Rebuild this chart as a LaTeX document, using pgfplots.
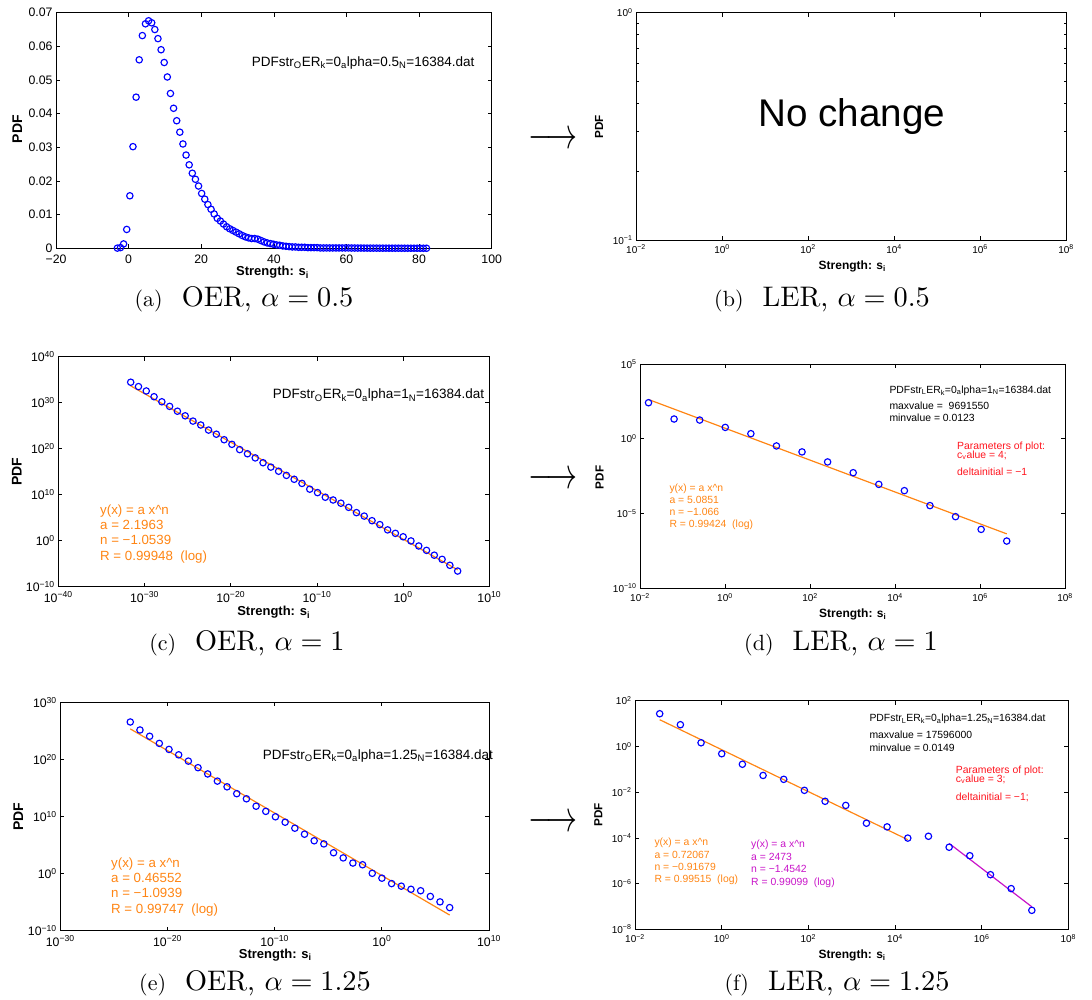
\documentclass[border=0pt]{standalone}
\usepackage{pgfplots}
\pgfplotsset{compat=1.18}
\usepackage{fontspec}
\usepackage{graphicx}
\newfontfamily\hv{Liberation Sans}
\definecolor{mor}{RGB}{255,133,20}
\definecolor{mpu}{RGB}{200,20,200}
\definecolor{mre}{RGB}{255,20,30}
\definecolor{mbl}{RGB}{0,0,255}
\newcommand\E[1]{10\textsuperscript{#1}}
\newcommand\capt[2]{\scalebox{2.2}{(#1)}\hspace{19pt}\scalebox{2.83}{#2}}
\pgfplotsset{
  mat/.style={scale only axis, anchor=south west,
    axis line style={line width=0.8pt},
    every tick/.append style={line width=0.7pt, black},
    major tick length=4pt, minor tick length=2.5pt, tick align=inside,
    xtick pos=both, ytick pos=both, xminorticks=false, yminorticks=false,
    scaled ticks=false,
    xticklabel style={yshift=-1.5pt},
    xlabel={Strength: s\textsubscript{i}}, ylabel={PDF}},
  xl/.style 2 args={every axis x label/.style={at={(axis description cs:#1,#2)},anchor=base}},
  yl/.style 2 args={every axis y label/.style={at={(axis description cs:#1,#2)},anchor=center,rotate=90}},
  fL/.style={ticklabel style={font=\hv\fontsize{12.3}{14}\selectfont},
    every axis x label/.append style={font=\hv\bfseries\fontsize{13}{15}\selectfont},
    every axis y label/.append style={font=\hv\bfseries\fontsize{14}{16}\selectfont}},
  fR/.style={ticklabel style={font=\hv\fontsize{10}{12}\selectfont},
    every axis x label/.append style={font=\hv\bfseries\fontsize{12}{14}\selectfont},
    every axis y label/.append style={font=\hv\bfseries\fontsize{11.7}{14}\selectfont}},
  pts/.style={only marks, mark=o, mark size=3.2pt, mark options={line width=1.15pt, draw=mbl}},
  fit/.style={no marks, line width=1.2pt, #1},
}
\begin{document}
\begin{tikzpicture}
\useasboundingbox (0,0) rectangle (1092pt,999pt);

% ---------------- (a) ----------------
\begin{axis}[mat, xl={0.497}{-0.116}, yl={-0.0888}{0.506}, fL,
  at={(56pt,750.7pt)}, width=435.7pt, height=235.6pt,
  xticklabel style={yshift=-1.5pt},
  xmin=-20, xmax=100, ymin=0, ymax=0.07,
  xtick={-20,0,20,40,60,80,100}, xticklabels={−20,0,20,40,60,80,100},
  ytick={0,0.01,0.02,0.03,0.04,0.05,0.06,0.07},
  yticklabels={0,0.01,0.02,0.03,0.04,0.05,0.06,0.07}]
\addplot[pts] table {
x y
-3.10 0.00005
-2.24 0.0002
-1.38 0.0013
-0.52 0.0056
0.34 0.0156
1.20 0.0302
2.06 0.0449
2.92 0.0560
3.78 0.0632
4.64 0.0667
5.50 0.0676
6.36 0.0670
7.22 0.0650
8.08 0.0623
8.94 0.0590
9.80 0.0552
10.66 0.0509
11.52 0.0460
12.38 0.0416
13.24 0.0379
14.10 0.0345
14.96 0.0310
15.82 0.0277
16.68 0.0248
17.54 0.0223
18.40 0.0205
19.26 0.0185
20.12 0.0163
20.98 0.0146
21.84 0.0130
22.70 0.0116
23.56 0.0102
24.42 0.0089
25.28 0.0081
26.14 0.0072
27.00 0.0064
27.86 0.0058
28.72 0.0053
29.58 0.0048
30.44 0.0043
31.30 0.0038
32.16 0.0034
33.02 0.0031
33.88 0.0029
34.74 0.0029
35.60 0.0027
36.46 0.0023
37.32 0.0019
38.18 0.0016
39.04 0.0014
39.90 0.0012
40.76 0.0010
41.62 0.0009
42.48 0.0007
43.34 0.0006
44.20 0.0005
45.06 0.0004
45.92 0.0004
46.78 0.0003
47.64 0.0003
48.50 0.0003
49.36 0.0002
50.22 0.0002
51.08 0.0002
51.94 0.0002
52.80 0.0001
53.66 0.0001
54.52 0.0001
55.38 0.0001
56.24 0.0001
57.10 0.0001
57.96 0.0001
58.82 0.0001
59.68 0.0001
60.54 0.0001
61.40 0.00008
62.26 0.00008
63.12 0.00007
63.98 0.00007
64.84 0.00006
65.70 0.00006
66.56 0.00005
67.42 0.00005
68.28 0.00005
69.14 0.00004
70.00 0.00004
70.86 0.00004
71.72 0.00003
72.58 0.00003
73.44 0.00003
74.30 0.00003
75.16 0.00002
76.02 0.00002
76.88 0.00002
77.74 0.00002
78.60 0.00002
79.46 0.00002
80.32 0.00001
81.18 0.00001
82.04 0.00001
};
\end{axis}

% ---------------- (b) ----------------
\begin{axis}[mat, xl={0.503}{-0.129}, yl={-0.0856}{0.498}, fR,
  at={(636pt,759pt)}, width=430pt, height=227.3pt,
  xmode=log, ymode=log, xmin=1e-2, xmax=1e8, ymin=0.1, ymax=1,
  xtick={1e-2,1,1e2,1e4,1e6,1e8},
  xticklabels={\E{−2},\E{0},\E{2},\E{4},\E{6},\E{8}},
  ytick={0.1,1}, yticklabels={\E{−1},\E{0}},
  yminorticks=true, minor ytick={0.2,0.3,0.4,0.5,0.6,0.7,0.8,0.9}]
\addplot[draw=none, forget plot] coordinates {(1,0.5)};
\node[anchor=base, font=\hv\fontsize{38.6}{44}\selectfont, inner sep=0pt]
  at (rel axis cs:0.5016,0.5015) {No change};
\end{axis}

% ---------------- (c) ----------------
\begin{axis}[mat, xl={0.4998}{-0.126}, yl={-0.0965}{0.5}, fL,
  at={(58.3pt,412.3pt)}, width=431pt, height=230pt,
  xmode=log, ymode=log, xmin=1e-40, xmax=1e10, ymin=1e-10, ymax=1e40,
  xtick={1e-40,1e-30,1e-20,1e-10,1,1e10},
  xticklabels={\E{−40},\E{−30},\E{−20},\E{−10},\E{0},\E{10}},
  ytick={1e-10,1,1e10,1e20,1e30,1e40},
  yticklabels={\E{−10},\E{0},\E{10},\E{20},\E{30},\E{40}}]
\addplot[pts] table {
x y
2.512e-32 2.82e34
2.009e-31 3.16e33
1.607e-30 3.55e32
1.285e-29 2.00e31
1.028e-28 1.58e30
8.22e-28 1.58e29
6.59e-27 1.41e28
5.27e-26 1.41e27
4.22e-25 1.0e26
3.37e-24 1.41e25
2.70e-23 1.12e24
2.16e-22 1.41e23
1.726e-21 8.91e21
1.380e-20 8.91e20
1.104e-19 6.31e19
8.83e-19 7.94e18
7.06e-18 1e18
5.66e-17 8.91e16
4.53e-16 1e16
3.62e-15 1.26e15
2.90e-14 1.58e14
2.32e-13 2.24e13
1.854e-12 2.82e12
1.483e-11 1.58e11
1.186e-10 2.82e10
9.48e-10 2.82e9
7.59e-9 7.08e8
6.07e-8 1.41e8
4.86e-7 1.78e7
3.89e-6 1.26e6
3.11e-5 2.24e5
2.49e-4 2.24e4
1.991e-3 3.16e3
1.592e-2 224
0.1274 39.8
1.019 7.08
8.15 0.891
65.2 0.0708
521 7.94e-3
4169 7.08e-4
33420 8.91e-5
267300 4.47e-6
2138000 2.51e-7
};
\addplot[fit=mor] coordinates {(2.512e-32,4.42e33) (2.138e6,4.69e-7)};
\end{axis}

% ---------------- (d) ----------------
\begin{axis}[mat, xl={0.5007}{-0.129}, yl={-0.0948}{0.494}, fR,
  at={(640pt,410.7pt)}, width=425pt, height=224.3pt,
  xmode=log, ymode=log, xmin=1e-2, xmax=1e8, ymin=1e-10, ymax=1e5,
  xtick={1e-2,1,1e2,1e4,1e6,1e8},
  xticklabels={\E{−2},\E{0},\E{2},\E{4},\E{6},\E{8}},
  ytick={1e-10,1e-5,1,1e5},
  yticklabels={\E{−10},\E{−5},\E{0},\E{5}}]
\addplot[pts] table {
x y
0.01585 257
0.0634 20.9
0.2536 17.8
1.0144 5.75
4.058 2.19
16.23 0.331
64.92 0.132
259.7 0.0282
1038.8 5.37e-3
4155 8.91e-4
16620 3.39e-4
66480 3.39e-5
265900 6.17e-6
1063700 8.71e-7
4254800 1.445e-7
};
\addplot[fit=mor] coordinates {(0.01585,421.7) (4254800,4.36e-7)};
\end{axis}

% ---------------- (e) ----------------
\begin{axis}[mat, xl={0.5015}{-0.121}, yl={-0.098}{0.499}, fL,
  at={(60.3pt,68.3pt)}, width=428.7pt, height=228.4pt,
  xmode=log, ymode=log, xmin=1e-30, xmax=1e10, ymin=1e-10, ymax=1e30,
  xtick={1e-30,1e-20,1e-10,1,1e10},
  xticklabels={\E{−30},\E{−20},\E{−10},\E{0},\E{10}},
  ytick={1e-10,1,1e10,1e20,1e30},
  yticklabels={\E{−10},\E{0},\E{10},\E{20},\E{30}}]
\addplot[pts] table {
x y
3.39e-24 3.55e26
2.71e-23 1.41e25
2.17e-22 1.12e24
1.734e-21 6.31e22
1.387e-20 5.62e21
1.109e-19 6.31e20
8.89e-19 5.01e19
7.11e-18 3.55e18
5.69e-17 2.82e17
4.55e-16 1.58e16
3.64e-15 1.58e15
2.91e-14 1e14
2.33e-13 1.26e13
1.862e-12 6.31e11
1.489e-11 7.94e10
1.191e-10 8.91e9
9.53e-10 1e9
7.64e-9 8.91e7
6.11e-8 7.94e6
4.89e-7 5.62e5
3.91e-6 1.58e5
3.13e-5 4.47e3
2.50e-4 562
2.00e-3 70.8
1.600e-2 35.5
0.1279 1.12
1.023 0.158
8.18 0.0178
65.6 6.31e-3
525 1.78e-3
4198 1e-3
33570 1e-4
268500 1.12e-5
2148000 1.12e-6
};
\addplot[fit=mor] coordinates {(3.39e-24,2.19e25) (2.148e6,5.51e-8)};
\end{axis}

% ---------------- (f) ----------------
\begin{axis}[mat, xl={0.501}{-0.127}, yl={-0.0847}{0.5}, fR,
  at={(635pt,69.7pt)}, width=433.3pt, height=228.6pt,
  xmode=log, ymode=log, xmin=1e-2, xmax=1e8, ymin=1e-8, ymax=1e2,
  xtick={1e-2,1,1e2,1e4,1e6,1e8},
  xticklabels={\E{−2},\E{0},\E{2},\E{4},\E{6},\E{8}},
  ytick={1e-8,1e-6,1e-4,1e-2,1,1e2},
  yticklabels={\E{−8},\E{−6},\E{−4},\E{−2},\E{0},\E{2}}]
\addplot[pts] table {
x y
0.03715 26.9
0.1115 8.91
0.3344 1.445
1.003 0.479
3.009 0.166
9.027 0.0537
27.08 0.0363
81.25 0.0120
243.7 3.98e-3
731.2 2.63e-3
2194 4.37e-4
6581 3.02e-4
19740 9.77e-5
59230 1.175e-4
177700 3.89e-5
533000 1.66e-5
1599000 2.45e-6
4798000 6.03e-7
14390000 6.76e-8
};
\addplot[fit=mor] coordinates {(0.03715,14.75) (19740,8.32e-5)};
\addplot[fit=mpu] coordinates {(177700,5.74e-5) (14390000,9.64e-8)};
\end{axis}

% ---------------- annotations ----------------
\begin{scope}[every node/.style={anchor=base west, inner sep=0pt}]
\node[font=\hv\fontsize{13.5}{16}\selectfont] at (251.7pt,932.3pt)
  {PDFstr\textsubscript{O}ER\textsubscript{k}=0\textsubscript{a}lpha=0.5\textsubscript{N}=16384.dat};
\node[font=\hv\fontsize{13.5}{16}\selectfont] at (272.7pt,600pt)
  {PDFstr\textsubscript{O}ER\textsubscript{k}=0\textsubscript{a}lpha=1\textsubscript{N}=16384.dat};
\node[font=\hv\fontsize{13.5}{16}\selectfont] at (262.7pt,239.7pt)
  {PDFstr\textsubscript{O}ER\textsubscript{k}=0\textsubscript{a}lpha=1.25\textsubscript{N}=16384.dat};
\begin{scope}[every node/.append style={font=\hv\fontsize{13.3}{16}\selectfont, text=mor}]
\node at (100pt,484.7pt) {y(x) = a x\textasciicircum n};
\node at (100pt,469pt) {a = 2.1963};
\node at (100pt,454pt) {n = −1.0539};
\node at (100pt,438pt) {R = 0.99948\ \ (log)};
\node at (111pt,131.7pt) {y(x) = a x\textasciicircum n};
\node at (111pt,116.7pt) {a = 0.46552};
\node at (111pt,101.7pt) {n = −1.0939};
\node at (111pt,85.7pt) {R = 0.99747\ \ (log)};
\end{scope}
\begin{scope}[every node/.append style={font=\hv\fontsize{10.4}{12}\selectfont}]
\node at (889.3pt,605.7pt) {PDFstr\textsubscript{L}ER\textsubscript{k}=0\textsubscript{a}lpha=1\textsubscript{N}=16384.dat};
\node at (889.3pt,589pt) {maxvalue =\ \ 9691550};
\node at (889.3pt,577pt) {minvalue = 0.0123};
\node[text=mre] at (957pt,549pt) {Parameters of plot:};
\node[text=mre] at (957pt,540.7pt) {c\textsubscript{v}alue = 4;};
\node[text=mre] at (957pt,523pt) {deltainitial = −1};
\node[text=mor] at (669.3pt,507pt) {y(x) = a x\textasciicircum n};
\node[text=mor] at (669.3pt,495pt) {a = 5.0851};
\node[text=mor] at (669.3pt,483.3pt) {n = −1.066};
\node[text=mor] at (669.3pt,471.3pt) {R = 0.99424\ \ (log)};
\node at (869.3pt,277.3pt) {PDFstr\textsubscript{L}ER\textsubscript{k}=0\textsubscript{a}lpha=1.25\textsubscript{N}=16384.dat};
\node at (869.3pt,260pt) {maxvalue = 17596000};
\node at (869.3pt,247.3pt) {minvalue = 0.0149};
\node[text=mre] at (955.7pt,225pt) {Parameters of plot:};
\node[text=mre] at (955.7pt,216.7pt) {c\textsubscript{v}alue = 3;};
\node[text=mre] at (955.7pt,199pt) {deltainitial = −1;};
\node[text=mor] at (654.3pt,154pt) {y(x) = a x\textasciicircum n};
\node[text=mor] at (654.3pt,141pt) {a = 0.72067};
\node[text=mor] at (654.3pt,129pt) {n = −0.91679};
\node[text=mor] at (654.3pt,116.7pt) {R = 0.99515\ \ (log)};
\node[text=mpu] at (751pt,151.3pt) {y(x) = a x\textasciicircum n};
\node[text=mpu] at (751pt,138.3pt) {a = 2473};
\node[text=mpu] at (751pt,126.3pt) {n = −1.4542};
\node[text=mpu] at (751pt,114pt) {R = 0.99099\ \ (log)};
\end{scope}
\end{scope}

% ---------------- arrows ----------------
\node at (553pt,859pt) {\scalebox{3.1}[4.4]{$\longrightarrow$}};
\node at (553pt,519pt) {\scalebox{3.1}[4.4]{$\longrightarrow$}};
\node at (553pt,176pt) {\scalebox{3.1}[4.4]{$\longrightarrow$}};

% ---------------- captions ----------------
\node[anchor=base] at (244pt,692.4pt) {\capt{a}{OER, $\alpha = 0.5$}};
\node[anchor=base] at (822pt,692.4pt) {\capt{b}{LER, $\alpha = 0.5$}};
\node[anchor=base] at (247pt,348.4pt) {\capt{c}{OER, $\alpha = 1$}};
\node[anchor=base] at (841pt,348.4pt) {\capt{d}{LER, $\alpha = 1$}};
\node[anchor=base] at (255pt,8.3pt) {\capt{e}{OER, $\alpha = 1.25$}};
\node[anchor=base] at (837pt,8.3pt) {\capt{f}{LER, $\alpha = 1.25$}};
\end{tikzpicture}
\end{document}
